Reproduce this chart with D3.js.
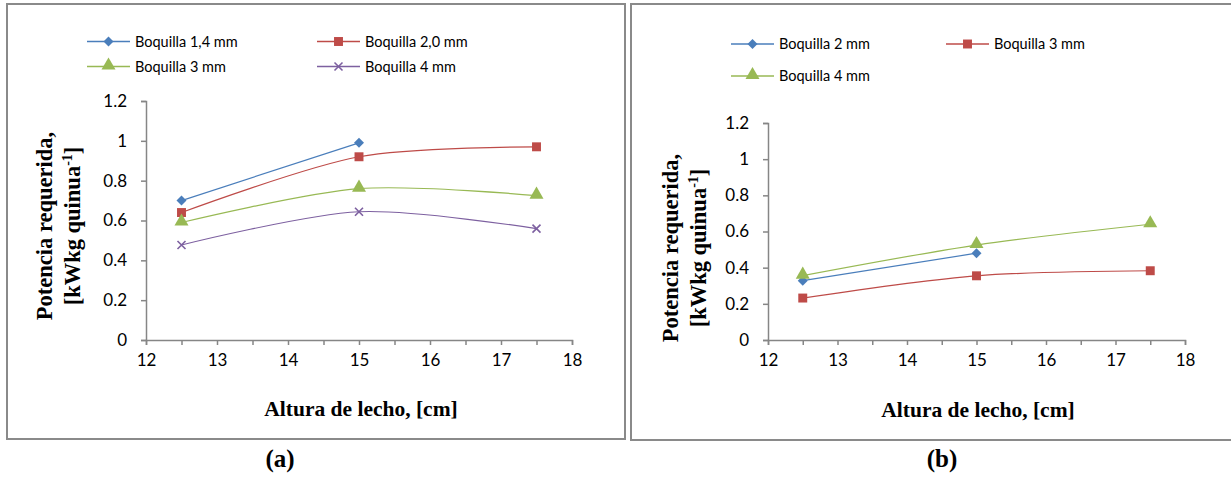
<!DOCTYPE html>
<html>
<head>
<meta charset="utf-8">
<script src="https://cdn.jsdelivr.net/npm/d3@7"></script>
<style>
body { margin: 0; background: #fff; }
svg { display: block; }
</style>
</head>
<body>
<div id="chart"></div>
<script>
// x values (altura de lecho, cm)
var alturas = [12.5, 15, 17.5];
var xTicks = [12, 12.5, 13, 13.5, 14, 14.5, 15, 15.5, 16, 16.5, 17, 17.5, 18];
var yTicks = [0, 0.2, 0.4, 0.6, 0.8, 1, 1.2];

// panel (a)
var namesA = ["Boquilla 1,4 mm", "Boquilla 2,0 mm", "Boquilla 3 mm", "Boquilla 4 mm"];
var a14 = [0.70, 0.99];
var a20 = [0.64, 0.92, 0.97];
var a3 = [0.59, 0.76, 0.725];
var a4 = [0.477, 0.644, 0.559];

// panel (b)
var namesB = ["Boquilla 2 mm", "Boquilla 3 mm", "Boquilla 4 mm"];
var b2 = [0.328, 0.48];
var b3 = [0.232, 0.355, 0.383];
var b4 = [0.356, 0.525, 0.64];

var colors = ["#4a7ebb", "#be4b48", "#98b954", "#7d60a0"];
var shapes = ["diamond", "square", "triangle", "cross"];

var W = 1231, H = 477;
var svg = d3.select("#chart").append("svg")
	.attr("width", W)
	.attr("height", H);

function marker(g, shape, color, x, y) {
	if (shape == "cross") {
		g.append("path")
			.attr("d", "M" + (x - 4) + "," + (y - 4) + "L" + (x + 4) + "," + (y + 4) +
				"M" + (x - 4) + "," + (y + 4) + "L" + (x + 4) + "," + (y - 4))
			.attr("stroke", color)
			.attr("stroke-width", 1.6)
			.attr("fill", "none");
		return;
	}
	var sym = shape == "triangle" ? d3.symbolTriangle : d3.symbolSquare;
	var size = shape == "diamond" ? 50 : shape == "square" ? 80 : 85;
	var rot = shape == "diamond" ? " rotate(45)" : "";
	g.append("path")
		.attr("d", d3.symbol().type(sym).size(size)())
		.attr("transform", "translate(" + x + "," + (shape == "triangle" ? y - 1 : y) + ")" + rot)
		.attr("fill", color);
}

function panel(cfg) {
	var g = svg.append("g");

	// frame
	g.append("rect")
		.attr("x", cfg.frame[0]).attr("y", cfg.frame[1])
		.attr("width", cfg.frame[2]).attr("height", cfg.frame[3])
		.attr("fill", "none")
		.attr("stroke", "#8a8a8a")
		.attr("stroke-width", 2);

	var x = d3.scaleLinear().domain([12, 18]).range(cfg.xr);
	var y = d3.scaleLinear().domain([0, 1.2]).range(cfg.yr);

	var xAxis = g.append("g")
		.attr("transform", "translate(0," + cfg.yr[0] + ")")
		.call(d3.axisBottom(x).tickValues(xTicks).tickSize(5).tickPadding(9)
			.tickFormat(function(d) { return d % 1 == 0 ? d : ""; }));
	var yAxis = g.append("g")
		.attr("transform", "translate(" + cfg.xr[0] + ",0)")
		.call(d3.axisLeft(y).tickValues(yTicks).tickSize(5).tickPadding(14)
			.tickFormat(function(d) { return d; }));

	[xAxis, yAxis].forEach(function(ax) {
		ax.select(".domain").attr("stroke", "#868686").attr("stroke-width", 1.5);
		ax.selectAll(".tick line").attr("stroke", "#868686").attr("stroke-width", 1.5);
		ax.selectAll(".tick text")
			.attr("fill", "#000")
			.style("font-family", "Lato, 'Open Sans', sans-serif")
			.style("font-size", "17px");
	});

	var line = d3.line()
		.x(function(d, i) { return x(alturas[i]); })
		.y(function(d) { return y(d); })
		.curve(d3.curveCardinal.tension(0.1));

	cfg.series.forEach(function(s, k) {
		g.append("path")
			.attr("d", line(s))
			.attr("fill", "none")
			.attr("stroke", colors[k])
			.attr("stroke-width", 1.2);
	});
	cfg.series.forEach(function(s, k) {
		s.forEach(function(v, i) {
			marker(g, shapes[k], colors[k], x(alturas[i]), y(v));
		});
	});

	// legend
	cfg.names.forEach(function(n, k) {
		var lx = cfg.leg[0] + (k % 2) * cfg.leg[2];
		var ly = cfg.leg[1] + Math.floor(k / 2) * cfg.leg[3];
		g.append("line")
			.attr("x1", lx).attr("x2", lx + 43)
			.attr("y1", ly).attr("y2", ly)
			.attr("stroke", colors[k])
			.attr("stroke-width", 1.3);
		marker(g, shapes[k], colors[k], lx + 21.5, ly);
		g.append("text")
			.attr("x", lx + 48).attr("y", ly)
			.attr("dy", "0.35em")
			.style("font-family", "Lato, 'Open Sans', sans-serif")
			.style("font-size", "14.5px")
			.text(n);
	});

	// y title
	var yt = g.append("text")
		.attr("transform", "translate(" + cfg.yt[0] + "," + cfg.yt[1] + ") rotate(-90)")
		.attr("text-anchor", "middle")
		.style("font-family", "'Liberation Serif', 'Times New Roman', serif")
		.style("font-weight", "bold")
		.style("font-size", "22.5px");
	yt.append("tspan").attr("x", 0).attr("y", 0).text("Potencia  requerida,");
	var t2 = yt.append("tspan").attr("x", 0).attr("y", 28).text("[kWkg quinua");
	t2.append("tspan").attr("dy", -8).style("font-size", "14px").text("-1");
	t2.append("tspan").attr("dy", 8).text("]");

	// x title
	g.append("text")
		.attr("x", cfg.xt[0]).attr("y", cfg.xt[1])
		.attr("text-anchor", "middle")
		.style("font-family", "'Liberation Serif', 'Times New Roman', serif")
		.style("font-weight", "bold")
		.style("font-size", "21.5px")
		.text("Altura de lecho, [cm]");

	// caption
	svg.append("text")
		.attr("x", cfg.cap[0]).attr("y", cfg.cap[1])
		.attr("text-anchor", "middle")
		.style("font-family", "'Liberation Serif', 'Times New Roman', serif")
		.style("font-weight", "bold")
		.style("font-size", "25px")
		.text(cfg.label);
}

panel({
	frame: [7, 4, 618, 435],
	xr: [146, 572], yr: [340, 101],
	series: [a14, a20, a3, a4],
	names: namesA,
	leg: [87, 41.5, 230, 25],
	yt: [52, 226],
	xt: [361, 416],
	cap: [280, 467],
	label: "(a)"
});

panel({
	frame: [631, 4, 610, 436],
	xr: [768, 1185], yr: [340, 123],
	series: [b2, b3, b4],
	names: namesB,
	leg: [731, 44, 215, 32],
	yt: [678, 248],
	xt: [978, 417],
	cap: [942, 467],
	label: "(b)"
});
</script>
</body>
</html>
